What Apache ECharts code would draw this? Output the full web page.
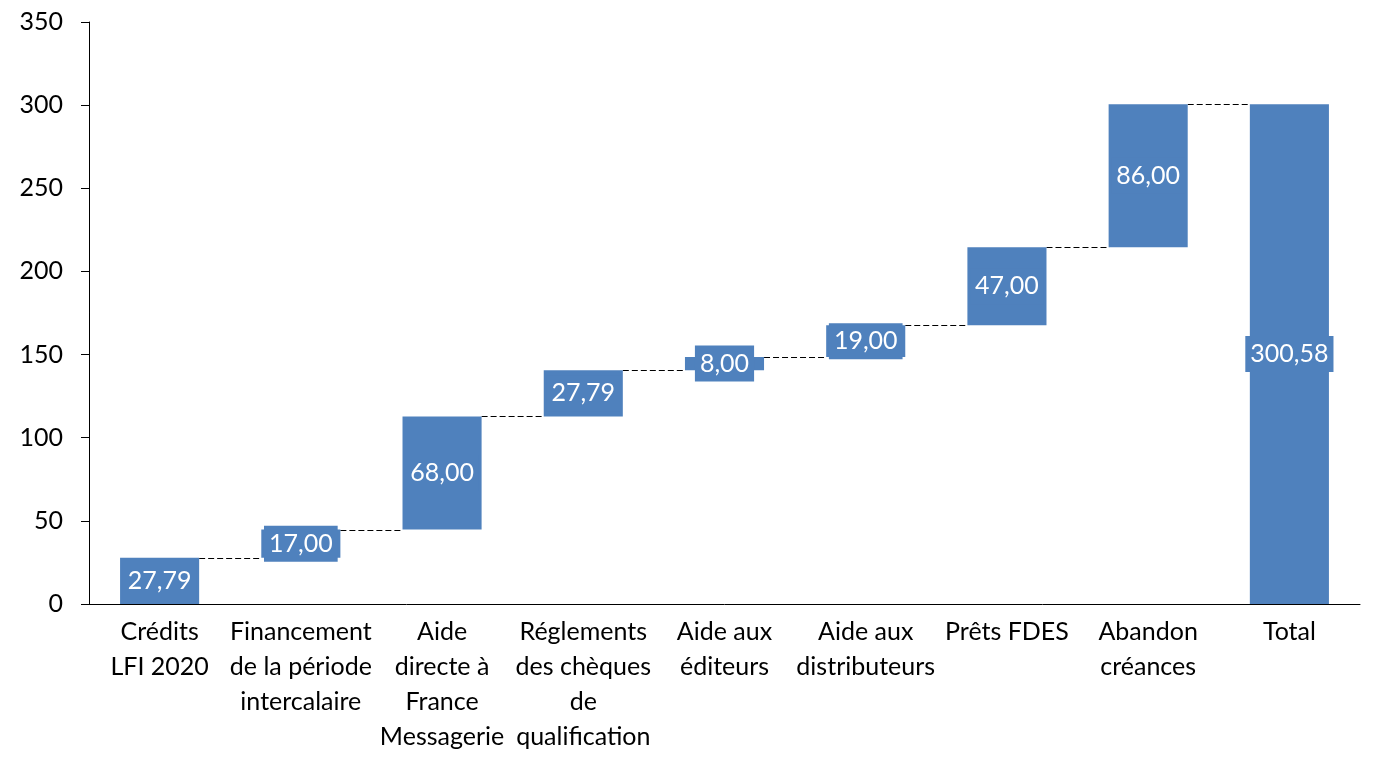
<!DOCTYPE html>
<html>
<head>
<meta charset="utf-8">
<script src="https://cdn.jsdelivr.net/npm/echarts@6/dist/echarts.min.js"></script>
<style>
  html, body { margin: 0; padding: 0; background: #fff; }
  #chart { width: 1373px; height: 772px; }
</style>
</head>
<body>
<div id="chart"></div>
<script>
// catégories et montants
var categories = [
  'Crédits\nLFI 2020',
  'Financement\nde la période\nintercalaire',
  'Aide\ndirecte à\nFrance\nMessagerie',
  'Réglements\ndes chèques\nde\nqualification',
  'Aide aux\néditeurs',
  'Aide aux\ndistributeurs',
  'Prêts FDES',
  'Abandon\ncréances',
  'Total'
];
var steps = [27.79, 17.00, 68.00, 27.79, 8.00, 19.00, 47.00, 86.00];
var total = 300.58;
var yTicks = [0, 50, 100, 150, 200, 250, 300, 350];

var blue = '#4f81bd';
var font = 'Lato';

// bases de la cascade
var bases = [], values = [], levels = [];
var cum = 0;
steps.forEach(function (v, i) {
  bases.push(cum);
  values.push(v);
  cum += v;
  levels.push([i, cum]);
});
bases.push(0);
values.push(total);

var chart = echarts.init(document.getElementById('chart'));
var barRatio = 0.56;

var option = {
  animation: false,
  textStyle: { fontFamily: font },
  grid: { left: 89, right: 13, top: 22, bottom: 168 },
  xAxis: {
    type: 'category',
    data: categories,
    axisLine: { lineStyle: { color: '#000', width: 1 } },
    axisTick: { show: false },
    axisLabel: {
      interval: 0,
      color: '#000',
      fontSize: 25,
      lineHeight: 35,
      margin: 10,
      fontFamily: font
    }
  },
  yAxis: {
    type: 'value',
    min: yTicks[0],
    max: yTicks[yTicks.length - 1],
    interval: 50,
    splitLine: { show: false },
    axisLine: { show: true, lineStyle: { color: '#000', width: 1 } },
    axisTick: { show: true, length: 8, lineStyle: { color: '#000' } },
    axisLabel: { color: '#000', fontSize: 25, margin: 26, fontFamily: font }
  },
  series: [
    {
      type: 'bar',
      stack: 'w',
      data: bases,
      barWidth: (barRatio * 100) + '%',
      itemStyle: { color: 'transparent' },
      silent: true
    },
    {
      type: 'bar',
      stack: 'w',
      data: values,
      barWidth: (barRatio * 100) + '%',
      itemStyle: { color: blue },
      label: {
        show: true,
        position: 'inside',
        color: '#fff',
        fontSize: 25,
        lineHeight: 26,
        fontFamily: font,
        backgroundColor: blue,
        padding: [5, 5],
        formatter: function (p) { return p.value.toFixed(2).replace('.', ','); }
      },
      z: 3
    },
    {
      type: 'custom',
      data: levels,
      z: 1,
      silent: true,
      renderItem: function (params, api) {
        var i = api.value(0), y = api.value(1);
        var p0 = api.coord([i, y]);
        var p1 = api.coord([i + 1, y]);
        var half = api.size([1, 0])[0] * barRatio / 2;
        return {
          type: 'line',
          shape: { x1: p0[0] + half, y1: Math.round(p0[1]) + 0.5, x2: p1[0] - half, y2: Math.round(p1[1]) + 0.5 },
          style: { stroke: '#000', lineWidth: 1, lineDash: [6, 3] }
        };
      }
    }
  ]
};

chart.setOption(option);
</script>
</body>
</html>
